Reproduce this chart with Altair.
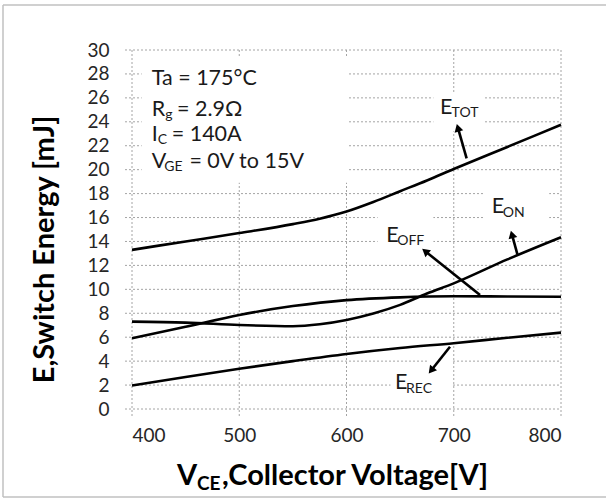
import altair as alt
import pandas as pd
import numpy as np

# ---------------- data ----------------
tot_x = [400, 450, 500, 550, 575, 600, 625, 650, 675, 700, 750, 800]
tot_y = [13.3, 14.0, 14.7, 15.45, 15.9, 16.5, 17.3, 18.2, 19.1, 20.05, 21.9, 23.75]

on_x = [400, 450, 500, 550, 575, 600, 625, 650, 675, 700, 750, 800]
on_y = [7.3, 7.22, 7.02, 6.92, 7.08, 7.44, 7.98, 8.7, 9.65, 10.5, 12.5, 14.35]

off_x = [400, 450, 500, 550, 600, 650, 700, 750, 800]
off_y = [5.92, 6.87, 7.86, 8.6, 9.1, 9.33, 9.42, 9.4, 9.38]

rec_x = [400, 450, 500, 550, 600, 650, 700, 750, 800]
rec_y = [1.97, 2.68, 3.36, 4.0, 4.6, 5.1, 5.5, 5.95, 6.38]

x_ticks = [400, 500, 600, 700, 800]
y_ticks = list(range(0, 31, 2))

# annotation arrows (tail -> head), data units
arrow_name = ["E_TOT", "E_ON", "E_OFF", "E_REC"]
arrow_x1 = [712.0, 759.3, 724.5, 696.5]
arrow_y1 = [20.94, 12.95, 9.52, 5.2]
arrow_x2 = [702.7, 753.1, 670.1, 676.3]
arrow_y2 = [23.87, 14.95, 13.42, 2.92]

# text pieces (main text)
main_text = ["Ta = 175°C", "R", "= 2.9Ω", "I", "= 140A", "V", "= 0V to 15V",
             "E", "E", "E", "E"]
main_x = [418.4, 418.4, 442.0, 418.4, 437.0, 418.4, 453.5,
          687.2, 735.4, 637.0, 645.2]
main_y = [27.1, 24.5, 24.5, 22.39, 22.39, 20.11, 20.11,
          24.64, 16.35, 13.95, 1.65]

# subscripts
sub_text = ["g", "C", "GE", "TOT", "ON", "OFF", "REC"]
sub_x = [431.0, 424.0, 430.0, 698.0, 745.8, 647.3, 655.5]
sub_y = [24.27, 22.11, 19.91, 24.40, 16.07, 13.73, 1.30]

# white label backgrounds that hide the grid
box_x1 = [409, 681, 729, 629, 641, 675]
box_x2 = [601.5, 729, 789, 681, 698, 698]
box_y1 = [18.9, 23.2, 15.6, 13.7, 1.4, 3.6]
box_y2 = [29.5, 26.5, 18.5, 16.5, 2.6, 4.4]

# x-axis title pieces (drawn as text to get the subscript)
xt_text = ["V", ",Collector Voltage[V]"]
xt_x = [442.0, 484.0]
xt_y = [-6.35, -6.35]
xts_text = ["CE"]
xts_x = [460.5]
xts_y = [-6.8]

# ---------------- build tables ----------------
rows = []
for name, xs_, ys_ in [("E_TOT", tot_x, tot_y), ("E_ON", on_x, on_y),
                       ("E_OFF", off_x, off_y), ("E_REC", rec_x, rec_y)]:
    for a, b in zip(xs_, ys_):
        rows.append({"series": name, "v": a, "e": b})
curves = pd.DataFrame(rows)

W, H = 429, 359
px_x = W / 400.0
px_y = H / 30.0
arrows = pd.DataFrame({"name": arrow_name, "x1": arrow_x1, "y1": arrow_y1,
                       "x2": arrow_x2, "y2": arrow_y2})
dx = (arrows["x2"] - arrows["x1"]) * px_x
dy = (arrows["y2"] - arrows["y1"]) * px_y
length = np.hypot(dx, dy)
arrows["ang"] = (np.degrees(np.arctan2(dx, dy)) + 360) % 360
back = 4.5
arrows["hx"] = arrows["x2"] - dx / length * back / px_x
arrows["hy"] = arrows["y2"] - dy / length * back / px_y

mains = pd.DataFrame({"t": main_text, "x": main_x, "y": main_y})
subs = pd.DataFrame({"t": sub_text, "x": sub_x, "y": sub_y})
boxes = pd.DataFrame({"x1": box_x1, "x2": box_x2, "y1": box_y1, "y2": box_y2})
xt = pd.DataFrame({"t": xt_text, "x": xt_x, "y": xt_y})
xts = pd.DataFrame({"t": xts_text, "x": xts_x, "y": xts_y})
xgrid = pd.DataFrame({"v": x_ticks})
ygrid = pd.DataFrame({"e": y_ticks})

FONT = "Lato"
xs = alt.Scale(domain=[400, 800], nice=False, zero=False)
ys = alt.Scale(domain=[0, 30], nice=False)

x_axis = alt.Axis(values=x_ticks, title=None, labelPadding=17)
y_axis = alt.Axis(values=y_ticks, title="E,Switch Energy [mJ]", labelPadding=23,
                  titleX=-79, titleY=199, titleAngle=-90,
                  titleAlign="center", titleBaseline="alphabetic")

X = lambda f: alt.X(f, scale=xs, axis=x_axis)
Y = lambda f: alt.Y(f, scale=ys, axis=y_axis)

base = alt.Chart(curves)
one = pd.DataFrame({"k": [0]})

GRIDC = "#a4a4a4"
vgrid = alt.Chart(xgrid).mark_rule(color=GRIDC, strokeWidth=1, strokeDash=[2, 2]).encode(
    x=X("v:Q"), y=alt.value(0), y2=alt.value(H + 7))
hgrid = alt.Chart(ygrid).mark_rule(color=GRIDC, strokeWidth=1, strokeDash=[2, 2]).encode(
    y=Y("e:Q"), x=alt.value(-7), x2=alt.value(W))

FRAME = "#c0c0c0"
frame_left = alt.Chart(one).mark_rule(color=FRAME, strokeWidth=1.5).encode(
    x=alt.value(-129), y=alt.value(-45), y2=alt.value(447))
frame_top = alt.Chart(one).mark_rule(color=FRAME, strokeWidth=1.5).encode(
    x=alt.value(-129), x2=alt.value(480), y=alt.value(-45))
frame_bottom = alt.Chart(one).mark_rule(color=FRAME, strokeWidth=1.5).encode(
    x=alt.value(-129), x2=alt.value(480), y=alt.value(447))

bg = alt.Chart(boxes).mark_rect(fill="white", strokeWidth=0).encode(
    x=X("x1:Q"), x2="x2:Q", y=Y("y1:Q"), y2="y2:Q",
)

lines = base.mark_line(color="black", strokeWidth=2.6, interpolate="monotone").encode(
    x=X("v:Q"), y=Y("e:Q"), detail="series:N",
)

arrow_lines = alt.Chart(arrows).mark_rule(color="black", strokeWidth=2.6).encode(
    x=X("x1:Q"), y=Y("y1:Q"), x2="hx:Q", y2="hy:Q"
)
arrow_heads = alt.Chart(arrows).mark_point(
    shape="triangle-up", filled=True, color="black", size=80, opacity=1
).encode(
    x=X("hx:Q"), y=Y("hy:Q"),
    angle=alt.Angle("ang:Q", scale=None),
)

main_txt = alt.Chart(mains).mark_text(
    font=FONT, fontSize=21.5, align="left", baseline="alphabetic", color="#1a1a1a"
).encode(x=X("x:Q"), y=Y("y:Q"), text="t:N")

sub_txt = alt.Chart(subs).mark_text(
    font=FONT, fontSize=14, align="left", baseline="alphabetic", color="#1a1a1a"
).encode(x=X("x:Q"), y=Y("y:Q"), text="t:N")

xtitle = alt.Chart(xt).mark_text(
    font=FONT, fontSize=29, fontWeight="bold", align="left", baseline="alphabetic",
    color="#000000"
).encode(x=X("x:Q"), y=Y("y:Q"), text="t:N")

xtitle_sub = alt.Chart(xts).mark_text(
    font=FONT, fontSize=19, fontWeight="bold", align="left", baseline="alphabetic",
    color="#000000"
).encode(x=X("x:Q"), y=Y("y:Q"), text="t:N")

chart = alt.layer(
    vgrid, hgrid, bg, lines, arrow_lines, arrow_heads,
    main_txt, sub_txt, xtitle, xtitle_sub, frame_left, frame_top, frame_bottom
).properties(
    width=W, height=H,
    autosize=alt.AutoSizeParams(type="none"),
    padding={"left": 132, "top": 50, "right": 45, "bottom": 91},
    background="white",
).configure_view(stroke=None).configure_axis(
    grid=False, ticks=False, domain=False,
    labelFont=FONT, labelFontSize=19, labelColor="#262626",
    labelOverlap=False, titleFont=FONT, titleFontSize=29, titleFontWeight="bold",
    titleColor="#000000",
)

chart.save("out.html", embed_options={"renderer": "svg", "actions": False})
